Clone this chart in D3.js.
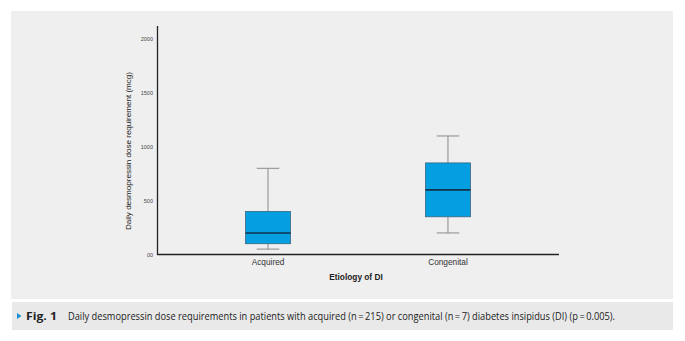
<!DOCTYPE html>
<html><head><meta charset="utf-8">
<script src="https://cdn.jsdelivr.net/npm/d3@7"></script>
<style>body{margin:0;background:#fff;}svg{display:block;}</style>
</head><body>
<svg id="c" width="685" height="341"></svg>
<script>
const categories = ["Acquired", "Congenital"];
const whiskerLow  = [50, 200];
const q1          = [100, 350];
const median      = [200, 600];
const q3          = [400, 850];
const whiskerHigh = [800, 1100];
const yTicks      = [0, 500, 1000, 1500, 2000];
const yTickLabels = ["00", "500", "1000", "1500", "2000"];
const yLabel = "Daily desmopressin dose requirement (mcg)";
const xLabel = "Etiology of DI";
const captionBold = "Fig. 1";
const captionText = "Daily desmopressin dose requirements in patients with acquired (n\u2009=\u2009215) or congenital (n\u2009=\u20097) diabetes insipidus (DI) (p\u2009=\u20090.005).";

const svg = d3.select("#c");
svg.append("rect").attr("x",11).attr("y",11).attr("width",662).attr("height",288).attr("fill","#efefef");
svg.append("rect").attr("x",12).attr("y",302).attr("width",661).attr("height",28).attr("fill","#e9e9e9");

const x = d3.scaleBand().domain(categories).range([157,559]).paddingInner(0).paddingOuter(0.117);
const y = d3.scaleLinear().domain([0,2000]).range([254.5,39]);

const data = categories.map((c,i)=>({c, lo:whiskerLow[i], q1:q1[i], med:median[i], q3:q3[i], hi:whiskerHigh[i]}));
const bw = x.bandwidth()*0.25;
const g = svg.append("g");
data.forEach(d=>{
  const cx = x(d.c)+x.bandwidth()/2;
  g.append("line").attr("x1",cx).attr("x2",cx).attr("y1",y(d.hi)).attr("y2",y(d.q3)).attr("stroke","#8a8a8a").attr("stroke-width",1);
  g.append("line").attr("x1",cx).attr("x2",cx).attr("y1",y(d.q1)).attr("y2",y(d.lo)).attr("stroke","#8a8a8a").attr("stroke-width",1);
  [d.hi,d.lo].forEach(v=>g.append("line").attr("x1",cx-bw/4).attr("x2",cx+bw/4).attr("y1",y(v)).attr("y2",y(v)).attr("stroke","#8a8a8a").attr("stroke-width",1));
  g.append("rect").attr("x",cx-bw/2).attr("y",y(d.q3)).attr("width",bw).attr("height",y(d.q1)-y(d.q3)).attr("fill","#049fe0").attr("stroke","#3b6680").attr("stroke-width",0.8);
  g.append("line").attr("x1",cx-bw/2).attr("x2",cx+bw/2).attr("y1",y(d.med)).attr("y2",y(d.med)).attr("stroke","#10324a").attr("stroke-width",1.6);
});

// axes
const yAxis = d3.axisLeft(y).tickValues(yTicks).tickFormat((d,i)=>yTickLabels[i]).tickSize(0).tickPadding(4);
const ya = svg.append("g").attr("transform","translate(157,0)").call(yAxis);
ya.select(".domain").remove();
ya.selectAll("text").attr("font-family","Liberation Sans, Arial, sans-serif").attr("font-size",5.5).attr("fill","#444");
svg.append("line").attr("x1",157.5).attr("x2",157.5).attr("y1",26).attr("y2",255).attr("stroke","#222").attr("stroke-width",1.3);

const xAxis = d3.axisBottom(x).tickSize(0).tickPadding(5);
const xa = svg.append("g").attr("transform","translate(0,254.5)").call(xAxis);
xa.select(".domain").remove();
xa.selectAll("text").attr("font-family","Liberation Sans, Arial, sans-serif").attr("font-size",8.3).attr("fill","#333");
svg.append("line").attr("x1",157).attr("x2",559).attr("y1",254.5).attr("y2",254.5).attr("stroke","#222").attr("stroke-width",1.3);

svg.append("text").attr("x",356).attr("y",280).attr("text-anchor","middle")
  .attr("font-family","Liberation Sans, Arial, sans-serif").attr("font-size",8.3).attr("font-weight","bold").attr("fill","#222").text(xLabel);
svg.append("text").attr("transform","translate(131,151) rotate(-90)").attr("text-anchor","middle")
  .attr("font-family","Liberation Sans, Arial, sans-serif").attr("font-size",7.6).attr("fill","#222")
  .attr("textLength",158).attr("lengthAdjust","spacingAndGlyphs").text(yLabel);

// caption
svg.append("path").attr("d","M17,313 L21.5,316 L17,319 Z").attr("fill","#1a8fd6");
svg.append("text").attr("x",26).attr("y",319.5).attr("font-family","Liberation Sans Narrow, Open Sans, sans-serif").attr("font-size",11).attr("font-weight","bold").attr("fill","#222")
  .attr("textLength",31).attr("lengthAdjust","spacingAndGlyphs").text(captionBold);
svg.append("text").attr("x",68).attr("y",319.5).attr("font-family","Liberation Sans Narrow, Open Sans, sans-serif").attr("font-size",10).attr("fill","#222")
  .attr("textLength",547).attr("lengthAdjust","spacingAndGlyphs").text(captionText);
</script>
</body></html>
